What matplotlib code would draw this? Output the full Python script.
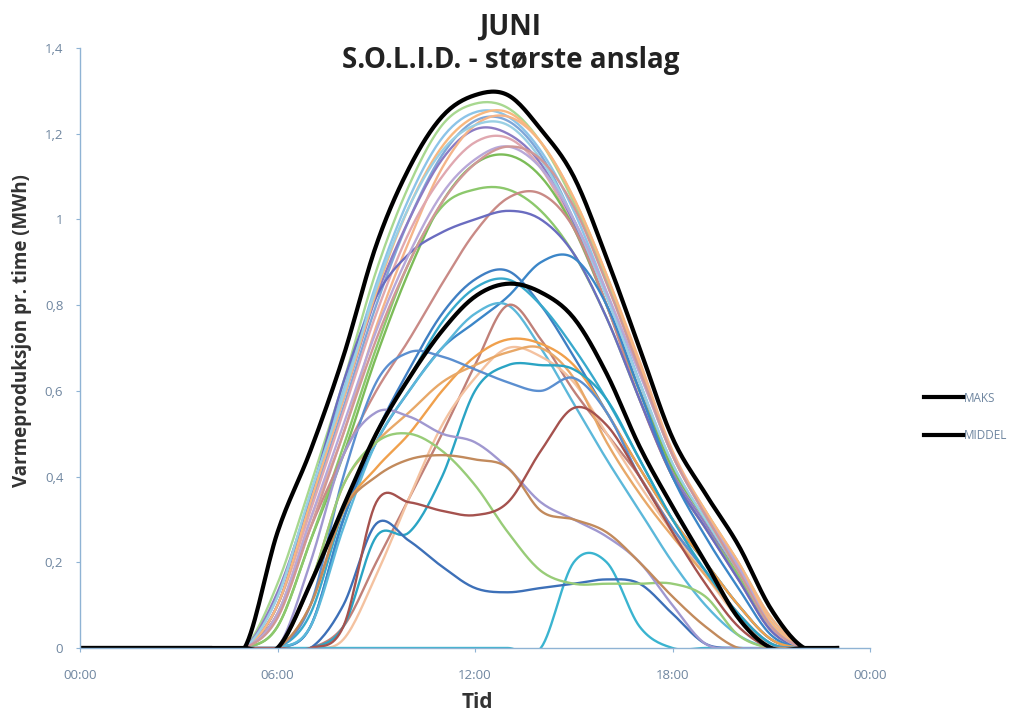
import numpy as np
import matplotlib.pyplot as plt

# hourly values (MWh) for each day in June
hours = list(range(24))

maks = [0, 0, 0, 0, 0, 0, 0.27, 0.46, 0.68, 0.94, 1.12, 1.24, 1.29, 1.29, 1.21, 1.10, 0.91, 0.70, 0.49, 0.36, 0.24, 0.09, 0, 0]
middel = [0, 0, 0, 0, 0, 0, 0, 0.15, 0.33, 0.50, 0.63, 0.74, 0.82, 0.85, 0.83, 0.77, 0.64, 0.47, 0.33, 0.20, 0.07, 0, 0, 0]

daily_values = [
    [0, 0, 0, 0, 0, 0, 0.15, 0.38, 0.62, 0.88, 1.08, 1.22, 1.27, 1.26, 1.18, 1.04, 0.86, 0.65, 0.45, 0.32, 0.20, 0.07, 0, 0],
    [0, 0, 0, 0, 0, 0, 0.12, 0.36, 0.60, 0.85, 1.05, 1.19, 1.25, 1.24, 1.16, 1.02, 0.83, 0.62, 0.43, 0.30, 0.19, 0.06, 0, 0],
    [0, 0, 0, 0, 0, 0, 0.10, 0.33, 0.56, 0.80, 1.00, 1.15, 1.23, 1.23, 1.15, 1.00, 0.82, 0.62, 0.42, 0.30, 0.18, 0.05, 0, 0],
    [0, 0, 0, 0, 0, 0, 0.13, 0.35, 0.58, 0.82, 1.00, 1.14, 1.21, 1.20, 1.13, 0.99, 0.80, 0.60, 0.41, 0.29, 0.17, 0.05, 0, 0],
    [0, 0, 0, 0, 0, 0, 0.08, 0.30, 0.50, 0.75, 0.95, 1.12, 1.22, 1.24, 1.18, 1.05, 0.87, 0.67, 0.46, 0.32, 0.20, 0.07, 0, 0],
    [0, 0, 0, 0, 0, 0, 0.10, 0.32, 0.55, 0.78, 0.97, 1.10, 1.18, 1.19, 1.12, 0.98, 0.80, 0.60, 0.42, 0.30, 0.18, 0.05, 0, 0],
    [0, 0, 0, 0, 0, 0, 0.05, 0.25, 0.45, 0.68, 0.88, 1.04, 1.13, 1.15, 1.10, 0.98, 0.80, 0.60, 0.42, 0.30, 0.18, 0.05, 0, 0],
    [0, 0, 0, 0, 0, 0, 0.05, 0.25, 0.47, 0.70, 0.90, 1.03, 1.07, 1.07, 1.02, 0.92, 0.77, 0.58, 0.40, 0.28, 0.17, 0.05, 0, 0],
    [0, 0, 0, 0, 0, 0, 0.08, 0.28, 0.45, 0.60, 0.72, 0.85, 0.97, 1.05, 1.06, 0.98, 0.80, 0.58, 0.40, 0.28, 0.16, 0.04, 0, 0],
    [0, 0, 0, 0, 0, 0, 0.10, 0.35, 0.62, 0.82, 0.92, 0.97, 1.00, 1.02, 1.00, 0.92, 0.77, 0.58, 0.40, 0.28, 0.16, 0.04, 0, 0],
    [0, 0, 0, 0, 0, 0, 0, 0.05, 0.30, 0.50, 0.65, 0.78, 0.86, 0.88, 0.80, 0.68, 0.55, 0.42, 0.30, 0.20, 0.10, 0.02, 0, 0],
    [0, 0, 0, 0, 0, 0, 0, 0.05, 0.30, 0.48, 0.60, 0.70, 0.76, 0.82, 0.90, 0.91, 0.80, 0.60, 0.40, 0.26, 0.14, 0.03, 0, 0],
    [0, 0, 0, 0, 0, 0, 0, 0.08, 0.32, 0.50, 0.63, 0.76, 0.84, 0.86, 0.80, 0.70, 0.58, 0.44, 0.30, 0.20, 0.10, 0.02, 0, 0],
    [0, 0, 0, 0, 0, 0, 0, 0.05, 0.28, 0.48, 0.60, 0.70, 0.78, 0.80, 0.70, 0.57, 0.44, 0.32, 0.20, 0.10, 0.03, 0, 0, 0],
    [0, 0, 0, 0, 0, 0, 0, 0, 0.05, 0.20, 0.35, 0.50, 0.66, 0.80, 0.72, 0.60, 0.50, 0.40, 0.28, 0.18, 0.08, 0.01, 0, 0],
    [0, 0, 0, 0, 0, 0, 0, 0, 0.02, 0.17, 0.35, 0.52, 0.63, 0.70, 0.68, 0.62, 0.50, 0.38, 0.27, 0.17, 0.07, 0.01, 0, 0],
    [0, 0, 0, 0, 0, 0, 0, 0.10, 0.32, 0.42, 0.50, 0.60, 0.68, 0.72, 0.71, 0.66, 0.55, 0.42, 0.30, 0.20, 0.10, 0.02, 0, 0],
    [0, 0, 0, 0, 0, 0, 0, 0.15, 0.38, 0.48, 0.55, 0.62, 0.66, 0.69, 0.70, 0.63, 0.48, 0.36, 0.26, 0.17, 0.08, 0.01, 0, 0],
    [0, 0, 0, 0, 0, 0, 0, 0.10, 0.40, 0.62, 0.69, 0.68, 0.65, 0.62, 0.60, 0.63, 0.55, 0.40, 0.28, 0.18, 0.08, 0.01, 0, 0],
    [0, 0, 0, 0, 0, 0, 0, 0, 0.05, 0.26, 0.27, 0.40, 0.60, 0.66, 0.66, 0.65, 0.58, 0.44, 0.30, 0.18, 0.08, 0.01, 0, 0],
    [0, 0, 0, 0, 0, 0, 0, 0, 0, 0, 0, 0, 0, 0, 0, 0.20, 0.20, 0.05, 0, 0, 0, 0, 0, 0],
    [0, 0, 0, 0, 0, 0, 0, 0, 0.10, 0.29, 0.25, 0.19, 0.14, 0.13, 0.14, 0.15, 0.16, 0.15, 0.08, 0.01, 0, 0, 0, 0],
    [0, 0, 0, 0, 0, 0, 0, 0.15, 0.38, 0.48, 0.50, 0.46, 0.38, 0.27, 0.18, 0.15, 0.15, 0.15, 0.15, 0.12, 0.03, 0, 0, 0],
    [0, 0, 0, 0, 0, 0, 0, 0.20, 0.45, 0.55, 0.54, 0.50, 0.48, 0.42, 0.34, 0.30, 0.26, 0.20, 0.10, 0.01, 0, 0, 0, 0],
    [0, 0, 0, 0, 0, 0, 0, 0.10, 0.32, 0.40, 0.44, 0.45, 0.44, 0.42, 0.32, 0.30, 0.27, 0.20, 0.12, 0.05, 0, 0, 0, 0],
    [0, 0, 0, 0, 0, 0, 0, 0, 0.05, 0.34, 0.34, 0.32, 0.31, 0.34, 0.46, 0.56, 0.52, 0.40, 0.27, 0.15, 0.05, 0, 0, 0],
    [0, 0, 0, 0, 0, 0, 0.10, 0.34, 0.58, 0.83, 1.03, 1.17, 1.24, 1.25, 1.18, 1.05, 0.87, 0.66, 0.45, 0.32, 0.20, 0.06, 0, 0],
    [0, 0, 0, 0, 0, 0, 0.12, 0.36, 0.59, 0.84, 1.03, 1.16, 1.22, 1.22, 1.14, 1.00, 0.82, 0.62, 0.43, 0.30, 0.18, 0.05, 0, 0],
    [0, 0, 0, 0, 0, 0, 0.08, 0.30, 0.52, 0.74, 0.92, 1.06, 1.14, 1.17, 1.12, 1.00, 0.83, 0.64, 0.45, 0.31, 0.19, 0.05, 0, 0],
    [0, 0, 0, 0, 0, 0, 0.07, 0.28, 0.50, 0.72, 0.90, 1.04, 1.13, 1.17, 1.14, 1.03, 0.85, 0.65, 0.45, 0.31, 0.18, 0.05, 0, 0],
]

x_ticks = [0, 6, 12, 18, 24]
x_tick_labels = ["00:00", "06:00", "12:00", "18:00", "00:00"]
y_ticks = [0, 0.2, 0.4, 0.6, 0.8, 1.0, 1.2, 1.4]
y_tick_labels = ["0", "0,2", "0,4", "0,6", "0,8", "1", "1,2", "1,4"]

# colours roughly as in the old excel chart
day_colors = [
    "#a8d890", "#8cc4e8", "#7fa7d9", "#8c7cc4", "#f5b489", "#e0a8b0",
    "#7cbc58", "#8cc86c", "#c98a86", "#6a6cc0", "#3f7fc3", "#3b86c8",
    "#38a9cc", "#5cb8da", "#c08078", "#f4c2a0", "#f0a04c", "#e8a868",
    "#5b8fd0", "#2aa4c4", "#3ab4d0", "#3d70b8", "#98cc78", "#a098d0",
    "#c28a5c", "#a5524e", "#f8b880", "#9ad0e4", "#b8a8d8", "#d09898",
]


def smooth(xs, ys, n=16):
    # catmull-rom, close to excel's "smoothed line"
    xs = np.asarray(xs, float)
    ys = np.asarray(ys, float)
    px = np.concatenate([[2 * xs[0] - xs[1]], xs, [2 * xs[-1] - xs[-2]]])
    py = np.concatenate([[ys[0]], ys, [ys[-1]]])
    out_x, out_y = [], []
    t = np.linspace(0, 1, n, endpoint=False)
    for i in range(1, len(px) - 2):
        p0, p1, p2, p3 = py[i - 1], py[i], py[i + 1], py[i + 2]
        yy = 0.5 * ((2 * p1) + (-p0 + p2) * t + (2 * p0 - 5 * p1 + 4 * p2 - p3) * t ** 2
                    + (-p0 + 3 * p1 - 3 * p2 + p3) * t ** 3)
        out_x.extend(px[i] + (px[i + 1] - px[i]) * t)
        out_y.extend(yy)
    out_x.append(xs[-1])
    out_y.append(ys[-1])
    return np.array(out_x), np.array(out_y)


plt.rcParams["font.family"] = ["Open Sans", "DejaVu Sans"]

W, H = 1021, 718
fig = plt.figure(figsize=(W / 100, H / 100), dpi=100)
ax = fig.add_axes([80 / W, 70 / H, 790 / W, 600 / H])

for vals, col in zip(daily_values, day_colors):
    sx, sy = smooth(hours, vals)
    ax.plot(sx, sy, color=col, lw=1.7, solid_capstyle="round")

sx, sy = smooth(hours, maks)
line_maks, = ax.plot(sx, sy, color="black", lw=3.0, label="MAKS")
sx, sy = smooth(hours, middel)
line_middel, = ax.plot(sx, sy, color="black", lw=3.0, label="MIDDEL")

ax.set_xlim(0, 24)
ax.set_ylim(0, 1.4)
ax.set_xticks(x_ticks)
ax.set_xticklabels(x_tick_labels)
ax.set_yticks(y_ticks)
ax.set_yticklabels(y_tick_labels)

axis_col = "#8fb3d4"
label_col = "#6f86a0"
for side in ["top", "right"]:
    ax.spines[side].set_visible(False)
for side in ["left", "bottom"]:
    ax.spines[side].set_color(axis_col)
    ax.spines[side].set_linewidth(1.0)
ax.tick_params(axis="both", colors=axis_col, labelcolor=label_col, labelsize=9.5, length=3)
ax.tick_params(axis="x", pad=12)
ax.tick_params(axis="y", pad=9)

fig.text(477 / W, 1 - 703 / H, "Tid", ha="center", va="center", fontsize=15,
         fontweight="bold", color="#333333")
fig.text(22 / W, 1 - 331 / H, "Varmeproduksjon pr. time (MWh)", ha="center", va="center",
         rotation=90, fontsize=13.5, fontweight="bold", color="#333333")

fig.text(0.5, 1 - 35 / H, "JUNI", ha="center", va="baseline", fontsize=20, fontweight="bold", color="#222222")
fig.text(0.5, 1 - 68 / H, "S.O.L.I.D. - største anslag", ha="center", va="baseline", fontsize=20,
         fontweight="bold", color="#222222")

fig.legend([line_maks, line_middel], ["MAKS", "MIDDEL"], loc="center left",
           bbox_to_anchor=(913 / W, 1 - 417 / H), frameon=False, fontsize=8.5,
           handlelength=3.4, handletextpad=0.05, labelspacing=2.1, labelcolor=label_col)

fig.savefig("out.png", dpi=100)
